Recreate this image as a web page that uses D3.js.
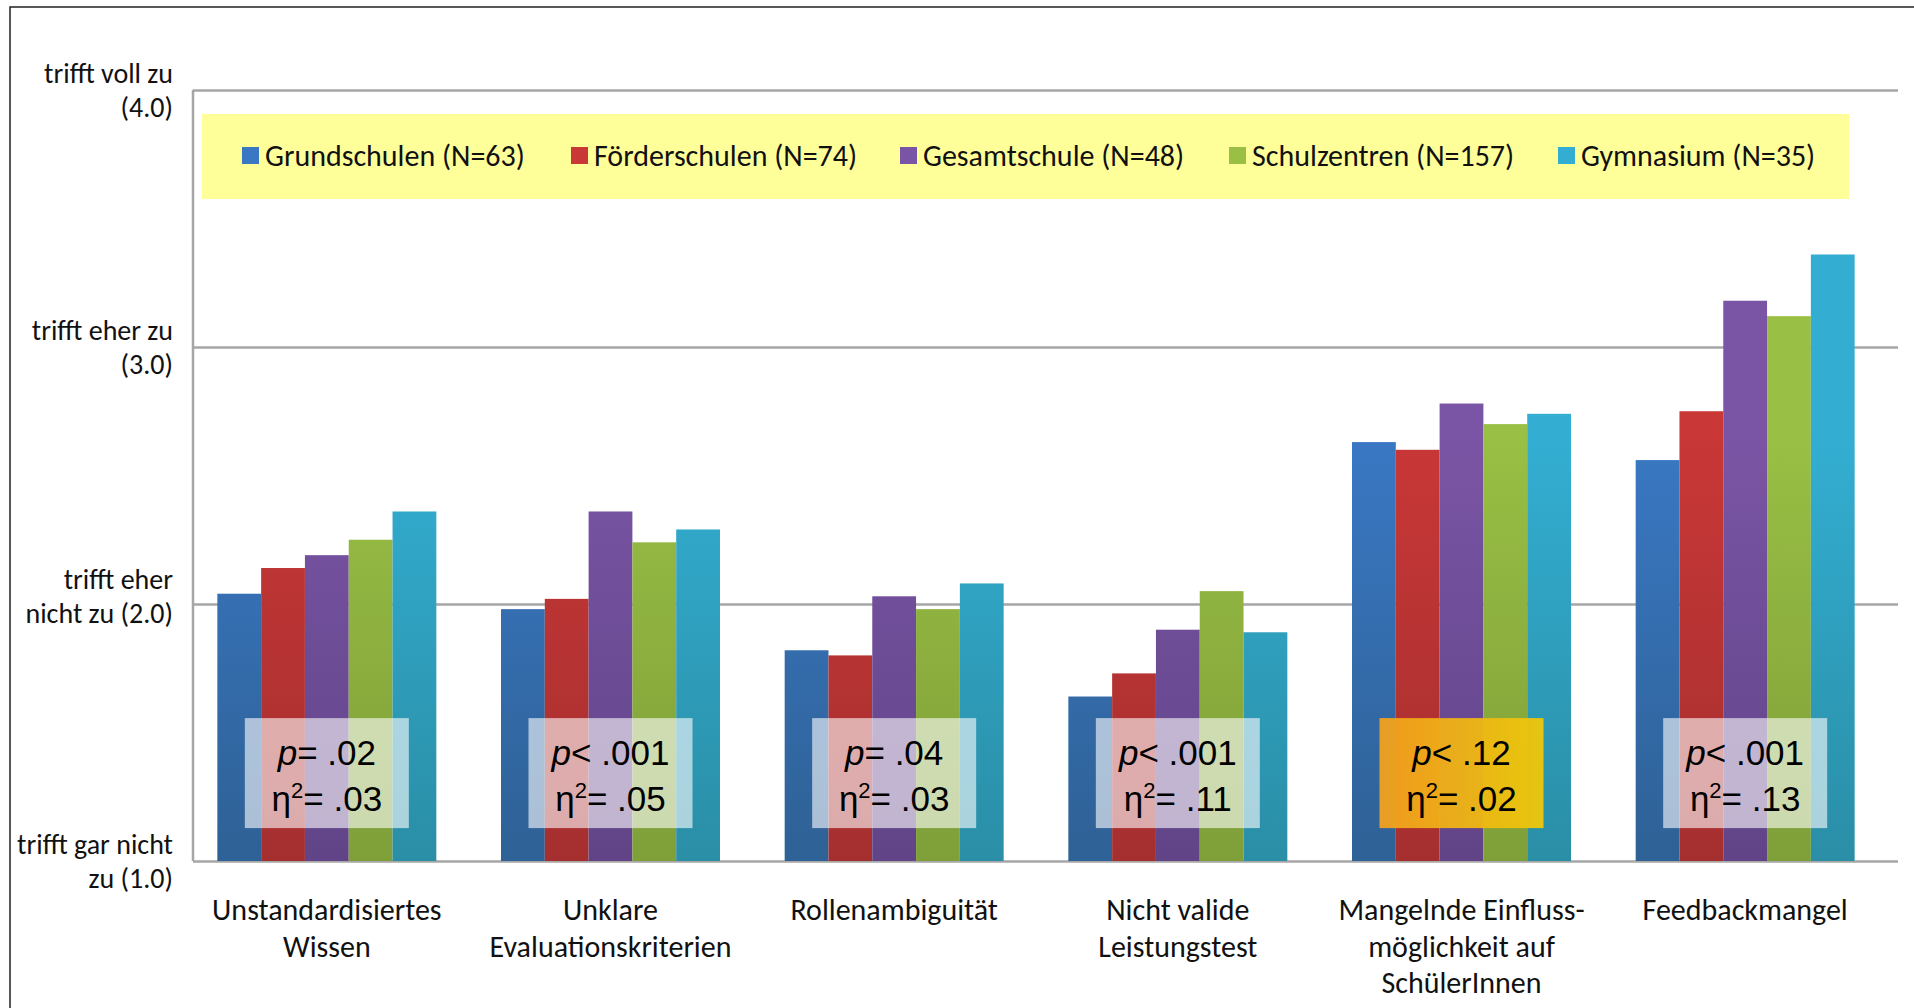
<!DOCTYPE html>
<html>
<head>
<meta charset="utf-8">
<script src="https://cdn.jsdelivr.net/npm/d3@7"></script>
<style>
  body { margin: 0; background: #fff; }
  svg { display: block; }
  .lbl { font-family: Carlito, Calibri, Lato, sans-serif; fill: #111; }
  .stat { font-family: "Liberation Sans", Arial, sans-serif; fill: #000; }
</style>
</head>
<body>
<svg></svg>
<script>
// categories and their label lines
const categories = ["Unstandardisiertes Wissen", "Unklare Evaluationskriterien", "Rollenambiguität",
    "Nicht valide Leistungstest", "Mangelnde Einflussmöglichkeit auf SchülerInnen", "Feedbackmangel"];
const categoryLines = [
    ["Unstandardisiertes", "Wissen"],
    ["Unklare", "Evaluationskriterien"],
    ["Rollenambiguität"],
    ["Nicht valide", "Leistungstest"],
    ["Mangelnde Einfluss-", "möglichkeit auf", "SchülerInnen"],
    ["Feedbackmangel"]
];

// series
const seriesNames = ["Grundschulen (N=63)", "Förderschulen (N=74)", "Gesamtschule (N=48)",
    "Schulzentren (N=157)", "Gymnasium (N=35)"];
const grundschulen = [2.04, 1.98, 1.82, 1.64, 2.63, 2.56];
const foerderschulen = [2.14, 2.02, 1.80, 1.73, 2.60, 2.75];
const gesamtschule = [2.19, 2.36, 2.03, 1.90, 2.78, 3.18];
const schulzentren = [2.25, 2.24, 1.98, 2.05, 2.70, 3.12];
const gymnasium = [2.36, 2.29, 2.08, 1.89, 2.74, 3.36];
const seriesValues = [grundschulen, foerderschulen, gesamtschule, schulzentren, gymnasium];

// y ticks
const tickValues = [1, 2, 3, 4];
const tickLines = [
    ["trifft gar nicht", "zu (1.0)"],
    ["trifft eher", "nicht zu (2.0)"],
    ["trifft eher zu", "(3.0)"],
    ["trifft voll zu", "(4.0)"]
];

// statistics per category
const pOps = ["=", "<", "=", "<", "<", "<"];
const pValues = [".02", ".001", ".04", ".001", ".12", ".001"];
const etaValues = [".03", ".05", ".03", ".11", ".02", ".13"];
const highlighted = [false, false, false, false, true, false];

const topColors = ["#3a78c4", "#c93737", "#7a55a5", "#99bf44", "#33aed2"];
const bottomColors = ["#2e6195", "#a52f2f", "#614488", "#7f9f39", "#2a8ea6"];

const W = 1914, H = 1008;
const plotLeft = 193, plotRight = 1898, plotTop = 90, plotBottom = 861;

const svg = d3.select("svg").attr("width", W).attr("height", H);

// outer frame
svg.append("rect")
    .attr("x", 10).attr("y", 7)
    .attr("width", W).attr("height", H)
    .attr("fill", "none").attr("stroke", "#222").attr("stroke-width", 1.5);

const y = d3.scaleLinear().domain([1, 4]).range([plotBottom, plotTop]);

const x0 = d3.scaleBand()
    .domain(categories)
    .range([185, 1887])
    .paddingInner(0.228)
    .paddingOuter(0.114);

const x1 = d3.scaleBand()
    .domain(seriesNames)
    .range([0, x0.bandwidth()]);

const defs = svg.append("defs");
seriesNames.forEach((s, i) => {
    const g = defs.append("linearGradient")
        .attr("id", "grad" + i)
        .attr("gradientUnits", "userSpaceOnUse")
        .attr("x1", 0).attr("y1", plotTop).attr("x2", 0).attr("y2", plotBottom);
    g.append("stop").attr("offset", 0).attr("stop-color", topColors[i]);
    g.append("stop").attr("offset", 0.45).attr("stop-color", topColors[i]);
    g.append("stop").attr("offset", 1).attr("stop-color", bottomColors[i]);
});
const hl = defs.append("linearGradient").attr("id", "hl")
    .attr("x1", 0).attr("y1", 0).attr("x2", 1).attr("y2", 0);
hl.append("stop").attr("offset", 0).attr("stop-color", "#f2a01e");
hl.append("stop").attr("offset", 1).attr("stop-color", "#eec80a");

// gridlines + y labels (the 2.0 label sits a little higher in the original)
const yAxis = svg.append("g")
    .attr("transform", `translate(${plotLeft},0)`)
    .call(d3.axisLeft(y).tickValues(tickValues).tickSize(-(plotRight - plotLeft)).tickPadding(20));
yAxis.select(".domain").remove();
yAxis.selectAll(".tick line").attr("stroke", "#a6a6a6").attr("stroke-width", 2.5);
yAxis.selectAll(".tick text")
    .attr("class", "lbl")
    .attr("font-size", 28)
    .attr("dy", null)
    .each(function(d) {
        const t = d3.select(this).text(null);
        const nudge = d === 2 ? -8 : 0;
        tickLines[tickValues.indexOf(d)].forEach((line, i) => {
            t.append("tspan")
                .attr("x", -20)
                .attr("y", (i === 0 ? -17 : 17) + nudge)
                .attr("dy", "0.35em")
                .text(line);
        });
    });

svg.append("line")
    .attr("x1", plotLeft).attr("x2", plotLeft)
    .attr("y1", plotTop).attr("y2", plotBottom)
    .attr("stroke", "#a6a6a6").attr("stroke-width", 2.5);

// legend
svg.append("rect")
    .attr("x", 202).attr("y", 114)
    .attr("width", 1647).attr("height", 85)
    .attr("fill", "#ffff99");

const lx = d3.scalePoint().domain(seriesNames).range([242, 1558]);
const legend = svg.append("g").selectAll("g")
    .data(seriesNames)
    .join("g")
    .attr("transform", d => `translate(${lx(d)},147)`);
legend.append("rect")
    .attr("width", 17).attr("height", 17)
    .attr("fill", (d, i) => topColors[i]);
legend.append("text")
    .attr("class", "lbl")
    .attr("x", 23).attr("y", 19)
    .attr("font-size", 30)
    .text(d => d);

// bars
const groups = svg.append("g").selectAll("g")
    .data(categories)
    .join("g")
    .attr("transform", d => `translate(${x0(d)},0)`);

groups.selectAll("rect")
    .data((d, ci) => seriesNames.map((s, si) => ({ s, si, v: seriesValues[si][ci] })))
    .join("rect")
    .attr("x", d => x1(d.s))
    .attr("y", d => y(d.v))
    .attr("width", x1.bandwidth())
    .attr("height", d => y(1) - y(d.v))
    .attr("fill", d => `url(#grad${d.si})`);

// statistic boxes
const boxW = 164;
const boxTop = 1.556, boxBottom = 1.128;
groups.append("rect")
    .attr("x", x0.bandwidth() / 2 - boxW / 2)
    .attr("y", y(boxTop))
    .attr("width", boxW)
    .attr("height", y(boxBottom) - y(boxTop))
    .attr("fill", (d, i) => highlighted[i] ? "url(#hl)" : "#fff")
    .attr("fill-opacity", (d, i) => highlighted[i] ? 0.95 : 0.6);

const pText = groups.append("text")
    .attr("class", "stat")
    .attr("x", x0.bandwidth() / 2)
    .attr("y", y(1.424))
    .attr("dy", "0.36em")
    .attr("text-anchor", "middle")
    .attr("font-size", 35);
pText.append("tspan").attr("font-style", "italic").text("p");
pText.append("tspan").text((d, i) => pOps[i] + " " + pValues[i]);

const eText = groups.append("text")
    .attr("class", "stat")
    .attr("x", x0.bandwidth() / 2)
    .attr("y", y(1.245))
    .attr("dy", "0.36em")
    .attr("text-anchor", "middle")
    .attr("font-size", 35);
eText.append("tspan").text("η");
eText.append("tspan").attr("font-size", 22).attr("dy", -13).text("2");
eText.append("tspan").attr("dy", 13).text((d, i) => "= " + etaValues[i]);

// category labels
groups.append("text")
    .attr("class", "lbl")
    .attr("text-anchor", "middle")
    .attr("font-size", 30)
    .each(function(d, i) {
        const t = d3.select(this);
        categoryLines[i].forEach((line, k) => {
            t.append("tspan")
                .attr("x", x0.bandwidth() / 2)
                .attr("y", 920 + k * 36.5)
                .text(line);
        });
    });
</script>
</body>
</html>
